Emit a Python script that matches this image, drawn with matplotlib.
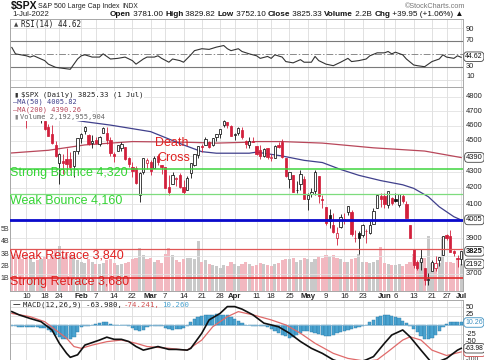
import matplotlib
matplotlib.use('Agg')
import matplotlib.pyplot as plt
from matplotlib.patches import Rectangle
import math

# ---------------- data ----------------
opens = [4778,4805,4788,4693,4698,4655,4669,4729,4734,4638,4632,4588,4547,4471,4356,4367,4381,4381,4337,4431,
         4519,4566,4535,4483,4505,4480,4548,4553,4507,4412,4430,4455,4456,4385,4332,4325,4155,4298,4355,
         4364,4323,4401,4343,4328,4202,4224,4253,4280,4203,4188,4289,4345,4407,4462,4469,4493,4470,4523,4541,4603,4624,4599,
         4540,4548,4573,4495,4474,4495,4463,4438,4397,4449,4385,4390,4473,4489,4385,4255,4279,4187,4222,4253,
         4130,4159,4182,4270,4129,4082,4035,3979,3903,3963,4013,4053,4051,3900,3928,3920,3943,3930,3985,4077,4151,
         4149,4095,4138,4134,4097,4148,4102,3975,3838,3764,3765,3733,3666,3715,3734,3775,3805,3920,3913,3825,3786,
         3781]
highs = [4797,4819,4798,4725,4708,4673,4714,4749,4744,4665,4632,4612,4602,4495,4417,4411,4453,4429,4432,4516,
         4550,4595,4542,4539,4522,4531,4590,4589,4527,4427,4473,4489,4456,4395,4362,4339,4295,4385,4389,
         4375,4401,4416,4343,4328,4277,4300,4268,4292,4247,4271,4358,4412,4465,4481,4522,4501,4520,4546,4576,4637,4627,4604,
         4548,4593,4593,4504,4521,4521,4464,4472,4453,4452,4411,4472,4489,4513,4386,4300,4279,4240,4308,4270,
         4169,4201,4308,4271,4158,4082,4069,4050,3964,4039,4047,4091,4063,3946,3944,3981,3955,3999,4076,4158,4169,
         4167,4177,4143,4168,4164,4160,4119,3975,3838,3778,3838,3733,3708,3779,3798,3796,3913,3927,3946,3836,3808,
         3830]
lows = [4758,4774,4699,4671,4663,4582,4638,4707,4650,4615,4569,4530,4478,4395,4223,4287,4305,4309,4265,4415,
        4484,4544,4471,4451,4476,4465,4548,4478,4402,4364,4430,4430,4372,4327,4268,4221,4115,4287,4318,
        4279,4322,4345,4285,4199,4157,4224,4209,4200,4161,4187,4261,4335,4390,4425,4469,4455,4465,4501,4517,4589,4582,4531,
        4507,4535,4514,4452,4451,4488,4409,4381,4393,4381,4367,4390,4452,4385,4268,4200,4174,4170,4188,4129,
        4063,4146,4156,4107,4077,3976,3958,3928,3859,3957,3984,4034,3911,3876,3810,3909,3875,3925,3985,4077,4084,
        4074,4074,4097,4110,4081,4107,4017,3900,3734,3721,3723,3640,3639,3715,3717,3743,3805,3889,3820,3799,3738,
        3752]
closes = [4797,4794,4701,4696,4677,4670,4713,4726,4659,4663,4577,4533,4483,4398,4410,4356,4350,4327,4432,4516,
          4547,4589,4477,4501,4484,4522,4587,4504,4419,4402,4471,4475,4380,4349,4305,4226,4289,4385,4374,
          4306,4387,4363,4329,4201,4171,4278,4260,4204,4173,4262,4358,4412,4463,4461,4512,4456,4520,4543,4576,4632,4602,4530,
          4546,4583,4525,4481,4500,4488,4413,4397,4447,4393,4392,4462,4459,4394,4272,4296,4175,4184,4288,4132,
          4155,4175,4300,4147,4123,3991,4001,3935,3930,4024,4008,4089,3924,3901,3901,3974,3941,3979,4058,4158,4132,
          4101,4177,4109,4121,4161,4116,4018,3901,3750,3735,3790,3667,3675,3765,3760,3796,3912,3900,3822,3819,3785,
          3825]
prev_close0 = 4766
volume_b = [2.4,2.9,3.0,2.9,2.6,3.0,2.6,2.4,2.5,2.6,
            2.8,2.6,2.9,3.3,3.7,2.8,3.0,3.0,2.8,2.5,
            2.4,2.3,2.6,2.4,2.2,2.2,2.3,2.5,2.6,
            2.3,2.1,2.2,2.3,2.4,2.6,2.7,3.5,2.9,2.6,
            2.7,2.4,2.5,2.3,3.0,3.5,2.9,2.5,2.4,2.6,
            2.7,2.7,2.6,4.1,2.4,2.5,2.2,2.1,2.0,1.9,2.1,2.0,2.4,
            2.2,2.0,2.2,2.4,2.2,2.0,2.1,2.3,2.2,2.1,
            2.0,2.2,2.3,2.5,2.6,2.6,2.7,2.4,2.5,2.7,
            2.6,2.4,2.6,2.8,2.7,2.9,2.8,2.9,2.7,2.6,
            2.4,2.4,2.6,2.7,3.0,2.4,2.4,2.3,2.4,2.5,3.6,
            2.3,2.2,2.1,2.1,2.2,2.0,2.2,2.4,
            3.0,2.4,2.5,2.7,4.5,2.3,2.3,2.3,4.4,2.4,2.4,2.3,2.6,2.2]

ma50_idx = [0,10,21,28,39,48,53,57,62,66,68,75,81,86,91,96,102,108,111,115,118,122,124]
ma50_val = [4690,4670,4627,4604,4560,4472,4428,4418,4418,4418,4425,4400,4372,4358,4314,4277,4244,4218,4196,4145,4084,4025,4006]
ma200_idx = [0,11,21,34,48,57,66,68,75,86,100,114,124]
ma200_val = [4418,4437,4472,4494,4490,4484,4490,4494,4494,4484,4453,4432,4390]

rsi_idx = [1,2,5,6,7,9,10,11,13,15,17,19,20,21,23,25,26,28,30,32,34,35,37,38,40,41,42,44,45,47,
           48,50,51,53,55,57,59,60,61,63,64,66,68,69,71,72,73,75,76,78,80,81,83,84,85,87,89,91,93,94,
           96,98,99,101,103,104,105,106,108,109,111,112,114,115,116,118,119,120,122,123,124]
rsi_val = [60,50,47,45,47,42,39.5,34,29,27.5,26,42,47,48.5,45,45,50,42,43,45,39.5,34,42,45,45,47,43,37,42,39.5,
           37,48.5,55,58,57,60.5,63,58,55,58,53.7,50,47,43,46,43,48.5,45,38,36,41,37,37,46,39.5,34,31.6,37,43,38,
           39.5,42,47,51.6,51.6,53.7,50,52.6,48.5,42,32.7,31.6,30,34,38,42,48.5,45,43,47,44.6]

macd_idx = [1,3,6,9,12,14,16,17,19,21,23,25,27,29,31,33,35,37,39,41,44,46,49,50,53,55,58,60,62,64,
            67,70,74,77,80,83,86,89,92,95,98,100,103,105,108,110,113,116,118,120,123,124]
macd_val = [38,29,19,10,-13,-50,-78,-89,-82,-55,-48,-41,-33,-39,-39,-45,-59,-69,-64,-59,-67,-67,-69,-64,-22,15,33,52,52,45,
            29,6,-4,-22,-45,-64,-78,-96,-106,-106,-96,-87,-50,-27,-13,-32,-69,-105,-100,-92,-69,-64]
sig_idx = [1,6,10,13,16,18,20,23,27,31,35,38,44,49,53,56,60,63,67,72,76,80,84,89,93,98,101,104,108,110,113,116,120,124]
sig_val = [33,24,10,-13,-36,-59,-64,-55,-45.5,-41,-50,-59,-64,-69,-41,-4,24,38,29,15,1,-22,-50,-78,-92,-100,-96,-73,-41,-32,-41,-69,-84,-74]
hist_val = [-2,-3,-3,-4,-4,-5,-5,-6,-6,-7,-8,
            -12,-20,-27,-33,-37,-39,-38,-32,-18,
            -6,-2,-1,
            2,4,6,9,8,4,1,
            0,1,0,-2,
            -7,-13,-16,-12,-5,
            -2,-1,-2,-3,
            -7,-10,-12,-11,-10,-7,-3,
            9,18,23,27,28,30,30,31,30,30,28,23,18,12,5,
            1,0,-1,-2,-2,-3,
            -5,-10,-16,-22,-28,-31,-34,-33,-27,
            -21,-17,-16,-19,-22,-25,-28,-30,-30,-26,-21,-18,-16,-14,-11,-7,-4,-1,
            1,9,16,23,26,28,28,26,24,19,12,6,
            -2,-9,-20,-30,-37,-37,-34,-26,-16,-5,
            4,8,10,10,10]

tick_idx = [5,10,14,20,24,29,34,39,43,48,53,58,62,68,72,77,82,87,92,97,103,106,111,116,120,124]
tick_lbl = ['10','18','24','Feb','7','14','22','Mar','7','14','21','28','Apr','11','18','25',
            'May','9','16','23','Jun','6','13','21','27','Jul']
months = {'Feb','Mar','Apr','May','Jun','Jul'}

price_grid = [3700,3800,3900,4000,4100,4200,4300,4400,4500,4600,4700,4800]
price_labels = [3700,3900,4100,4200,4300,4500,4600,4700,4800]
levels = [4320, 4160, 4005, 3840, 3680]

# ---------------- layout helpers ----------------
W, H = 485, 360
fig = plt.figure(figsize=(W/100, H/100), dpi=100)
fig.patch.set_facecolor('white')

def rect(x0, y0, x1, y1):
    return [x0/W, 1-y1/H, (x1-x0)/W, (y1-y0)/H]
def fx(x): return x/W
def fy(y): return 1-y/H

X0, X1 = 10, 463
XL = (0.5, 124.5)
GRID = '#dcdcdc'
FRAME = '#a8a8a8'
SANS = 'Liberation Sans'
MONO = 'DejaVu Sans Mono'
RED = '#d2203c'

def idx2px(i):
    return X0 + (i - XL[0]) * (X1 - X0) / (XL[1] - XL[0])

def style(ax):
    ax.set_xlim(*XL)
    ax.set_xticks([]); ax.set_yticks([])
    ax.set_yticks([], minor=True)
    for s in ax.spines.values():
        s.set_color(FRAME); s.set_linewidth(0.7)

# ---------------- RSI panel ----------------
ax_r = fig.add_axes(rect(X0, 19, X1, 87))
style(ax_r)
ax_r.set_ylim(-1.6, 104.3)
for t in tick_idx:
    ax_r.axvline(t, color=GRID, lw=0.6, zorder=0)
for v in (90, 10):
    ax_r.axhline(v, color=GRID, lw=0.6, zorder=0)
for v in (70, 30):
    ax_r.axhline(v, color='#7a7a7a', lw=0.8, zorder=1)
ax_r.axhline(50, color='#8a8a8a', lw=0.7, ls=(0, (7, 2, 1.5, 2)), zorder=1)
ax_r.plot(rsi_idx, rsi_val, color='#333333', lw=0.8, zorder=3)

# ---------------- volume (behind price) ----------------
ax_v = fig.add_axes(rect(X0, 87, X1, 291))
style(ax_v)
ax_v.set_ylim(0, 16.6)
for t in tick_idx:
    ax_v.axvline(t, color=GRID, lw=0.6, zorder=0)
prev = [prev_close0] + closes[:-1]
vcol = ['#f2b8c0' if c < p else '#c9c9c9' for c, p in zip(closes, prev)]
ax_v.bar(range(len(volume_b)), volume_b, width=0.85, color=vcol, edgecolor='none', zorder=1)

# ---------------- price panel ----------------
ax_p = fig.add_axes(rect(X0, 87, X1, 291))
style(ax_p)
ax_p.patch.set_alpha(0)
ax_p.set_yscale('log')
ax_p.set_ylim(3609.5, 4868.6)
ax_p.set_yticks([]); ax_p.set_yticks([], minor=True)
for v in price_grid:
    ax_p.axhline(v, color='#e2e2e2', lw=0.6, zorder=0)

ax_p.plot(ma200_idx, ma200_val, color='#b8475a', lw=0.9, zorder=2)
ax_p.plot(ma50_idx, ma50_val, color='#40408c', lw=0.9, zorder=2)

for i, (o, h, l, c) in enumerate(zip(opens, highs, lows, closes)):
    col = RED if c < prev[i] else '#111111'
    ax_p.vlines(i, l, h, color=col, lw=0.6, zorder=3)
    lo, hi = min(o, c), max(o, c)
    if hi - lo < 3:
        hi = lo + 3
    fc = col if c < o else 'white'
    ax_p.bar(i, hi - lo, bottom=lo, width=0.62, color=fc, edgecolor=col, linewidth=0.55, zorder=4)

lvl_style = [('#3fd43f', 1.1), ('#7ddc7d', 0.9), ('#0a0acc', 2.0), ('#e05555', 0.9), ('#e02a2a', 1.2)]
for v, (c, w) in zip(levels, lvl_style):
    ax_p.axhline(v, color=c, lw=w, zorder=5)

# ---------------- MACD panel ----------------
ax_m = fig.add_axes(rect(X0, 300, X1, 362))
style(ax_m)
ax_m.set_ylim(-102, 70.3)
for t in tick_idx:
    ax_m.axvline(t, color=GRID, lw=0.6, zorder=0)
for v in (50, 25, -25, -50, -100):
    ax_m.axhline(v, color=GRID, lw=0.6, zorder=0)
ax_m.bar(range(len(hist_val)), hist_val, width=0.9, color='#4aa3d0', edgecolor='#2a7aa8',
         linewidth=0.3, zorder=2)
ax_m.axhline(0, color='#8ab8d4', lw=0.6, zorder=2)
ax_m.plot(sig_idx, sig_val, color='#e06a6a', lw=0.9, zorder=3)
ax_m.plot(macd_idx, macd_val, color='#111111', lw=1.2, zorder=4)

# ---------------- date labels ----------------
for t, s in zip(tick_idx, tick_lbl):
    fig.text(fx(idx2px(t)), fy(297), s, fontsize=5.6, family=SANS,
             fontweight='bold' if s in months else 'normal', ha='center', va='center', color='#222222')

# ---------------- header ----------------
fig.text(fx(11), fy(6), '$SPX', fontsize=7.5, fontweight='bold', family=SANS, va='center', color='#111111')
fig.text(fx(38), fy(6), 'S&P 500 Large Cap Index', fontsize=5.0, family=SANS, va='center', color='#222222')
fig.text(fx(122), fy(6), 'INDX', fontsize=4.8, family=SANS, va='center', color='#222222')
fig.text(fx(465), fy(6), '\u00a9StockCharts.com', fontsize=5.2, family=SANS, va='center', ha='right', color='#777777')
fig.text(fx(12), fy(15), '1-Jul-2022', fontsize=5.6, family=SANS, va='center', color='#222222')

renderer = fig.canvas.get_renderer()
parts = [('Open', 'bold'), (' 3781.00 ', 'normal'), ('High', 'bold'), (' 3829.82 ', 'normal'),
         ('Low', 'bold'), (' 3752.10 ', 'normal'), ('Close', 'bold'), (' 3825.33 ', 'normal'),
         ('Volume', 'bold'), (' 2.2B ', 'normal'), ('Chg', 'bold'), (' +39.95 (+1.06%) \u25b2', 'normal')]

def layout(fs):
    x = 110
    made = []
    for s, w in parts:
        t = fig.text(fx(x), fy(15), s, fontsize=fs, fontweight=w, family=SANS, va='center', ha='left',
                     color='#111111')
        made.append(t)
        x += t.get_window_extent(renderer).width
    return x, made

end, made = layout(6.0)
for t in made:
    t.remove()
fs = 6.0 * (465 - 110) / (end - 110)
layout(fs)

# ---------------- panel legends ----------------
fig.text(fx(14), fy(25), '\u25b2', fontsize=4, color='#444444', va='center')
fig.text(fx(21), fy(25), 'RSI(14) 44.62', fontsize=5.5, family=MONO, va='center', color='#222222')

fig.add_artist(Rectangle((fx(11), fy(121)), (92 - 11) / W, (121 - 88) / H, transform=fig.transFigure,
                         facecolor='white', edgecolor='none', zorder=5))
fig.text(fx(14), fy(94.5), '\u25ae', fontsize=4.5, color='#333333', va='center', zorder=6)
fig.text(fx(21), fy(94.5), '$SPX (Daily) 3825.33 (1 Jul)', fontsize=5.2, family=MONO, va='center',
         color='#222222', zorder=6,
         bbox=dict(boxstyle='square,pad=0.1', fc='white', ec='none'))
fig.text(fx(13), fy(102), '\u2014MA(50) 4005.82', fontsize=5.0, family=MONO, va='center', color='#40408c', zorder=6)
fig.text(fx(13), fy(109.5), '\u2014MA(200) 4390.26', fontsize=5.0, family=MONO, va='center', color='#b8475a', zorder=6)
fig.text(fx(14), fy(117), '\u25ae', fontsize=4.5, color='#888888', va='center', zorder=6)
fig.text(fx(20), fy(117), 'Volume 2,192,955,904', fontsize=5.0, family=MONO, va='center', color='#666666', zorder=6)

fig.text(fx(13), fy(305), '\u2014', fontsize=5.5, color='#111111', va='center')
fig.text(fx(23), fy(305), 'MACD(12,26,9) -63.980,', fontsize=5.3, family=MONO, va='center', color='#222222')
fig.text(fx(124), fy(305), '-74.241,', fontsize=5.3, family=MONO, va='center', color='#d05050')
fig.text(fx(162), fy(305), '10.260', fontsize=5.3, family=MONO, va='center', color='#4aa3d0')

# ---------------- level annotations ----------------
ann = [('Strong Bounce 4,320', 172.5, '#33d433'), ('Weak Bounce 4,160', 200.5, '#33d433'),
       ('Weak Retrace 3,840', 256, '#e02020'), ('Strong Retrace 3,680', 282.5, '#e02020')]
for s, y, c in ann:
    fig.text(fx(10), fy(y), s, fontsize=9, family=SANS, color=c, va='center', ha='left', zorder=7)
fig.text(fx(155), fy(143), 'Death', fontsize=9, family=SANS, color='#e02020', va='center', zorder=7)
fig.text(fx(157), fy(158), 'Cross', fontsize=9, family=SANS, color='#e02020', va='center', zorder=7)

# ---------------- right axis labels ----------------
def lab(y, s, color='#222222', fs=5.4):
    fig.text(fx(466), fy(y), s, fontsize=fs, family=SANS, color=color, va='center', ha='left')

def boxlab(y, s, color='#111111', ec='#444444', weight='normal', fs=5.4, x=466):
    fig.text(fx(x), fy(y), s, fontsize=fs, family=SANS, color=color, va='center', ha='left',
             fontweight=weight, zorder=8,
             bbox=dict(boxstyle='round,pad=0.18,rounding_size=0.45', fc='white', ec=ec, lw=0.6))

def py(p):
    return 96.7 + 681 * (math.log(4800) - math.log(p))

for p in price_labels:
    lab(py(p), str(p))
boxlab(py(4390.26), '4390')
boxlab(py(4005.82), '4005')
boxlab(py(3825.33), '3825', weight='bold')
boxlab(291 - 2.193 * 12.3, '2192')

for v, y in ((90, 29.3), (70, 40.7), (30, 66), (10, 76.7)):
    lab(y, str(v))
boxlab(56.7, '44.62', fs=5.0, x=465)

for s, y in (('50', 307.3), ('25', 315.0), ('-25', 334.3), ('-50', 341.5)):
    lab(y, s)
lab(359.8, '-100', fs=4.8)
boxlab(322.5, '10.26', color='#3a8fc0', ec='#3a8fc0', fs=5.0, x=465)
boxlab(351.8, '-74.24', color='#d05050', ec='#d05050', fs=4.8, x=465)
boxlab(348.3, '-63.98', fs=4.8, x=465)

# volume axis labels (left)
for b in (1, 2, 3, 4, 5):
    fig.text(fx(0.5), fy(291 - b * 12.3), f'{b}B', fontsize=5.0, family=SANS, color='#333333',
             va='center', ha='left')

fig.savefig('out.png', dpi=100, facecolor='white')
